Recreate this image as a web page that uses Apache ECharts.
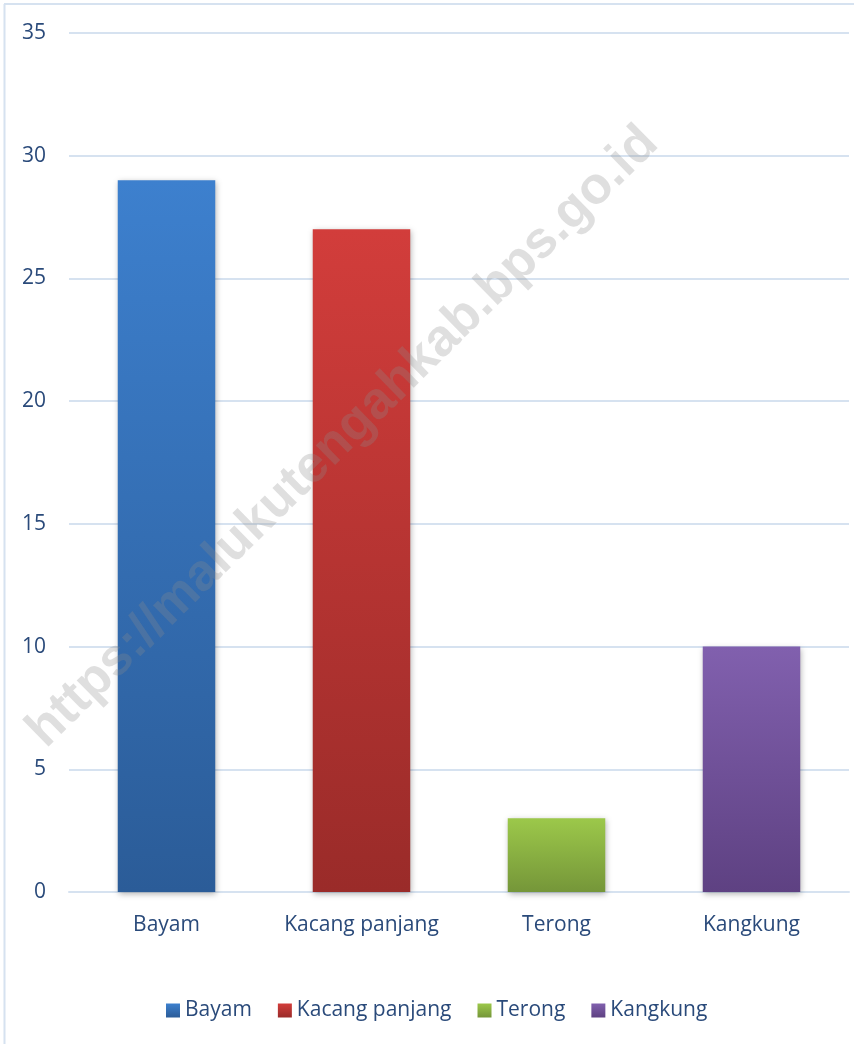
<!DOCTYPE html>
<html>
<head>
<meta charset="utf-8">
<script src="https://cdn.jsdelivr.net/npm/echarts@6/dist/echarts.min.js"></script>
<style>
html,body{margin:0;padding:0;background:#fff;}
#c{width:854px;height:1044px;}
</style>
</head>
<body>
<div id="c"></div>
<script>
const categories = ['Bayam', 'Kacang panjang', 'Terong', 'Kangkung'];
const values = [29, 27, 3, 10];
const yTicks = { min: 0, max: 35, interval: 5 };
const watermark = 'https://malukutengahkab.bps.go.id';

const gradients = [
  ['#3d80ce', '#2b5c98'],
  ['#d23d3b', '#9a2b29'],
  ['#9cc84a', '#759639'],
  ['#8160ae', '#5e4182']
];
const textColor = '#2a4a7a';
const font = '"Open Sans", "Noto Sans", sans-serif';

function grad(i) {
  return new echarts.graphic.LinearGradient(0, 0, 0, 1, [
    { offset: 0, color: gradients[i][0] },
    { offset: 1, color: gradients[i][1] }
  ]);
}

const chart = echarts.init(document.getElementById('c'), null, { renderer: 'canvas' });

const series = categories.map((name, i) => ({
  name: name,
  type: 'bar',
  stack: 'all',
  barWidth: '50%',
  data: categories.map((c, j) => (j === i ? values[i] : '-')),
  itemStyle: {
    color: grad(i),
    shadowColor: 'rgba(0,0,0,0.3)',
    shadowBlur: 6,
    shadowOffsetX: 1,
    shadowOffsetY: 2
  }
}));

chart.setOption({
  animation: false,
  backgroundColor: '#fff',
  grid: { left: 69, right: 5, top: 33, bottom: 152, containLabel: false },
  legend: {
    bottom: 18,
    left: 161,
    itemWidth: 14,
    itemHeight: 14,
    itemGap: 26,
    icon: 'rect',
    textStyle: { color: textColor, fontSize: 21, fontFamily: font },
    data: categories.map((c, i) => ({ name: c, itemStyle: { color: grad(i), shadowBlur: 0 } }))
  },
  xAxis: {
    type: 'category',
    data: categories,
    axisLine: { show: true, lineStyle: { color: '#d6e2f0', width: 2 } },
    axisTick: { show: false },
    axisLabel: { color: textColor, fontSize: 21, fontFamily: font, margin: 23, interval: 0 }
  },
  yAxis: {
    type: 'value',
    min: yTicks.min,
    max: yTicks.max,
    interval: yTicks.interval,
    axisLine: { show: false },
    axisTick: { show: false },
    axisLabel: { color: textColor, fontSize: 21, fontFamily: font, margin: 23 },
    splitLine: { lineStyle: { color: '#d6e2f0', width: 2 } }
  },
  series: series,
  graphic: [
    { type: 'line', shape: { x1: 4.5, y1: 4, x2: 4.5, y2: 1044 }, style: { stroke: '#d6e2f0', lineWidth: 2 } },
    { type: 'line', shape: { x1: 4, y1: 4, x2: 854, y2: 4 }, style: { stroke: '#d6e2f0', lineWidth: 2 } },
    {
      type: 'text',
      x: 343, y: 437,
      rotation: 44.5 * Math.PI / 180,
      z: 100,
      style: {
        text: watermark,
        font: 'bold 52px "Liberation Sans", Arial, sans-serif',
        fill: 'rgba(140,140,140,0.28)',
        align: 'center',
        verticalAlign: 'middle'
      }
    }
  ]
});
</script>
</body>
</html>
